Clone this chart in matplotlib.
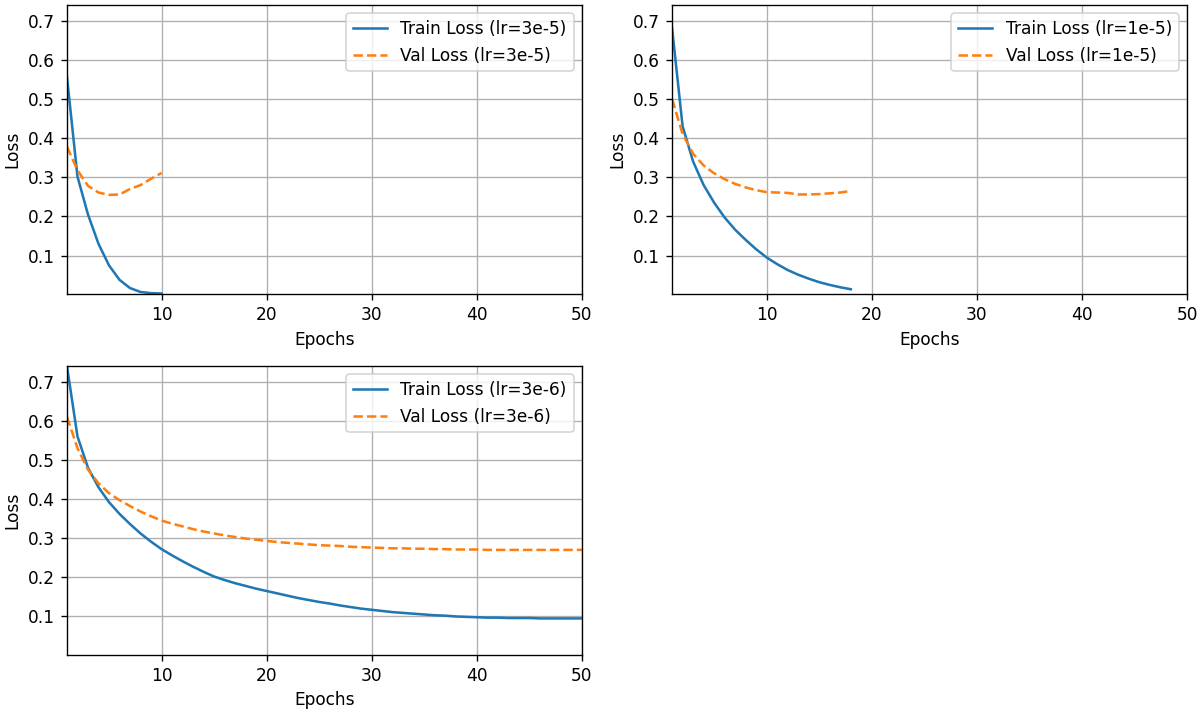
import numpy as np
import matplotlib
matplotlib.use("Agg")
import matplotlib.pyplot as plt

# loss curves per learning rate
train_3e5 = [0.557, 0.302, 0.205, 0.130, 0.075, 0.038, 0.017, 0.007, 0.004, 0.003]
val_3e5 = [0.378, 0.318, 0.278, 0.261, 0.255, 0.256, 0.270, 0.280, 0.296, 0.311]

train_1e5 = [0.680, 0.430, 0.340, 0.280, 0.235, 0.197, 0.166, 0.140, 0.116, 0.095,
             0.078, 0.063, 0.051, 0.041, 0.032, 0.025, 0.019, 0.014]
val_1e5 = [0.500, 0.410, 0.360, 0.330, 0.310, 0.295, 0.283, 0.274, 0.267, 0.262,
           0.261, 0.260, 0.256, 0.256, 0.257, 0.259, 0.261, 0.265]

train_3e6 = [0.740, 0.560, 0.480, 0.430, 0.392, 0.362, 0.336, 0.312, 0.291, 0.272,
             0.256, 0.241, 0.227, 0.214, 0.202, 0.193, 0.185, 0.178, 0.171, 0.165,
             0.159, 0.153, 0.147, 0.142, 0.137, 0.133, 0.128, 0.124, 0.120, 0.117,
             0.114, 0.111, 0.109, 0.107, 0.105, 0.103, 0.102, 0.100, 0.099, 0.098,
             0.097, 0.097, 0.096, 0.096, 0.096, 0.095, 0.095, 0.095, 0.095, 0.095]
val_3e6 = [0.610, 0.530, 0.475, 0.440, 0.415, 0.397, 0.382, 0.368, 0.356, 0.345,
           0.337, 0.330, 0.323, 0.317, 0.312, 0.307, 0.303, 0.299, 0.296, 0.293,
           0.290, 0.288, 0.286, 0.284, 0.282, 0.281, 0.280, 0.278, 0.277, 0.276,
           0.275, 0.274, 0.274, 0.273, 0.273, 0.272, 0.272, 0.271, 0.271, 0.271,
           0.270, 0.270, 0.270, 0.270, 0.270, 0.270, 0.270, 0.270, 0.270, 0.270]

runs = [("3e-5", train_3e5, val_3e5),
        ("1e-5", train_1e5, val_1e5),
        ("3e-6", train_3e6, val_3e6)]

num_epochs = 50

dpi = 122
fig, axes = plt.subplots(2, 2, figsize=(1204 / dpi, 711 / dpi), dpi=dpi)
axes = axes.flatten()

for ax, (lr, train, val) in zip(axes, runs):
    epochs = np.arange(1, len(train) + 1)
    ax.plot(epochs, train, label=f"Train Loss (lr={lr})")
    ax.plot(epochs, val, "--", label=f"Val Loss (lr={lr})")
    ax.set_xlim(1, num_epochs)
    ax.set_ylim(0.002, 0.74)
    ax.set_xlabel("Epochs")
    ax.set_ylabel("Loss")
    ax.legend(loc="upper right")
    ax.grid(True)

axes[3].axis("off")

plt.subplots_adjust(left=0.0556, right=0.986, top=0.993, bottom=0.079,
                    wspace=0.175, hspace=0.249)
plt.savefig("out.png", dpi=dpi)
